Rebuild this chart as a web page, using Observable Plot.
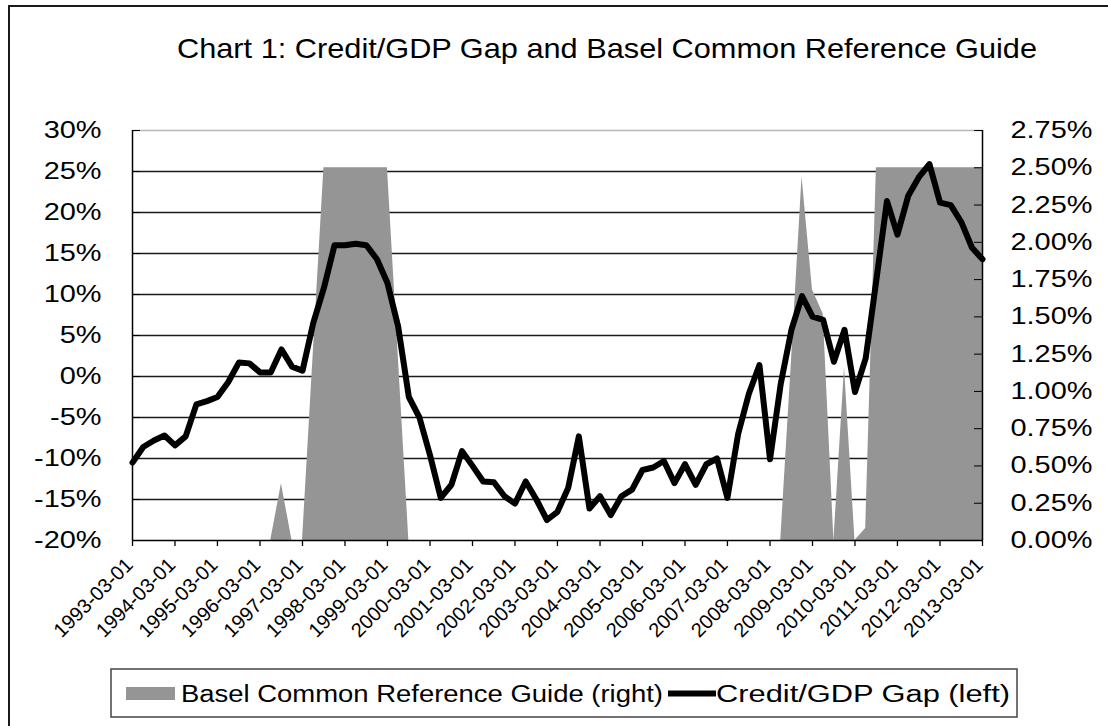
<!DOCTYPE html>
<html><head><meta charset="utf-8">
<script src="https://cdn.jsdelivr.net/npm/d3@7"></script>
<script src="https://cdn.jsdelivr.net/npm/@observablehq/plot@0.6"></script>
<style>
html,body{margin:0;padding:0;background:#fff;overflow:hidden;width:1108px;height:726px;}
#frame{position:absolute;left:8px;top:5px;width:1200px;height:800px;border-left:2px solid #1a1a1a;border-top:2px solid #1a1a1a;}
#chart{position:absolute;left:0;top:80px;}
#title{position:absolute;left:0;top:0;}
#legend{position:absolute;left:0;top:650px;}
svg text{font-family:"Liberation Sans",Arial,sans-serif;}
</style></head>
<body>
<div id="frame"></div>
<svg id="title" width="1108" height="80"><text id="ttl" x="607" y="58" text-anchor="middle" font-size="28" fill="#000">Chart 1: Credit/GDP Gap and Basel Common Reference Guide</text></svg>
<div id="chart"></div>
<svg id="legend" width="1108" height="76">
  <rect x="111" y="19" width="906" height="48" fill="#fff" stroke="#444" stroke-width="1.5"></rect>
  <rect x="126" y="37" width="49" height="13" fill="#959595"></rect>
  <text id="lg1" x="181" y="51.5" font-size="23.5" fill="#000">Basel Common Reference Guide (right)</text>
  <line x1="668" y1="43.5" x2="716" y2="43.5" stroke="#000" stroke-width="6"></line>
  <text id="lg2" x="716" y="51.5" font-size="23.5" fill="#000">Credit/GDP Gap (left)</text>
</svg>
<script>
// Credit/GDP gap (left axis, %), quarterly 1993-03-01 .. 2013-03-01
const gap = [-10.5, -8.6, -7.8, -7.2, -8.4, -7.3, -3.4, -3.0, -2.5, -0.7,
  1.7, 1.6, 0.5, 0.5, 3.3, 1.2, 0.7, 6.5, 10.8, 16.0,
  16.0, 16.2, 16.0, 14.3, 11.4, 6.1, -2.5, -5.0, -9.6, -14.8,
  -13.2, -9.1, -10.9, -12.8, -12.9, -14.6, -15.5, -12.8, -15.0, -17.5,
  -16.5, -13.6, -7.3, -16.1, -14.6, -16.9, -14.6, -13.8, -11.4, -11.1,
  -10.3, -13.0, -10.7, -13.2, -10.7, -10.0, -14.8, -7.0, -2.1, 1.4,
  -10.1, -0.9, 5.7, 9.8, 7.3, 6.9, 1.8, 5.7, -1.9, 2.2,
  11.8, 21.4, 17.3, 22.0, 24.3, 25.9, 21.2, 20.9, 18.8, 15.7, 14.3];
// Basel common reference guide (right axis, %)
const basel = [0, 0, 0, 0, 0, 0, 0, 0, 0, 0,
  0, 0, 0, 0, 0.38, 0, 0, 1.25, 2.5, 2.5,
  2.5, 2.5, 2.5, 2.5, 2.5, 1.25, 0, 0, 0, 0,
  0, 0, 0, 0, 0, 0, 0, 0, 0, 0,
  0, 0, 0, 0, 0, 0, 0, 0, 0, 0,
  0, 0, 0, 0, 0, 0, 0, 0, 0, 0,
  0, 0, 1.2, 2.44, 1.68, 1.52, 0, 1.16, 0, 0.08,
  2.5, 2.5, 2.5, 2.5, 2.5, 2.5, 2.5, 2.5, 2.5, 2.5, 2.5];
const startDate = new Date(Date.UTC(1993, 2, 1));
const dates = gap.map((_, i) => d3.utcMonth.offset(startDate, 3 * i));
const leftTicks = [-20, -15, -10, -5, 0, 5, 10, 15, 20, 25, 30];
const rightTicks = [0, 0.25, 0.5, 0.75, 1.0, 1.25, 1.5, 1.75, 2.0, 2.25, 2.5, 2.75];
const yearTicks = dates.filter((d, i) => i % 4 === 0);

const L0 = -20, L1 = 30, R1 = 2.75;
const toLeft = r => L0 + r * (L1 - L0) / R1;
const fromLeft = v => (v - L0) * R1 / (L1 - L0);

const rows = dates.map((d, i) => ({date: d, gap: gap[i], basel: toLeft(basel[i])}));

const chart = Plot.plot({
  width: 1108, height: 580,
  marginLeft: 132, marginRight: 126, marginTop: 50, marginBottom: 120,
  style: {fontFamily: "Liberation Sans, Arial, sans-serif", fontSize: "23.5px", color: "#000", background: "transparent", overflow: "visible"},
  x: {type: "utc", domain: [dates[0], dates[dates.length - 1]]},
  y: {domain: [L0, L1]},
  marks: [
    Plot.ruleY(leftTicks.filter(t => t > L0 && t < L1), {stroke: "#1a1a1a", strokeWidth: 1.3}),
    Plot.ruleY([L1], {stroke: "#b8b8b8", strokeWidth: 1.5}),
    Plot.areaY(rows, {x: "date", y1: L0, y2: "basel", fill: "#959595"}),
    Plot.ruleX([dates[0]], {stroke: "#000", strokeWidth: 1.5}),
    Plot.ruleX([dates[dates.length - 1]], {stroke: "#000", strokeWidth: 1.5}),
    Plot.ruleY([L0], {stroke: "#000", strokeWidth: 1.5}),
    Plot.line(rows, {x: "date", y: "gap", stroke: "#000", strokeWidth: 6, strokeLinejoin: "round"}),
    Plot.axisY(leftTicks, {anchor: "left", tickSize: -8, tickPadding: 39, tickFormat: d => d + "%", stroke: "#000"}),
    Plot.axisY(rightTicks.map(toLeft), {anchor: "right", tickSize: -9, tickPadding: 37, tickFormat: d => fromLeft(d).toFixed(2) + "%", stroke: "#000"}),
    Plot.axisX(yearTicks, {anchor: "bottom", tickSize: 6, tickFormat: () => "", stroke: "#000", strokeWidth: 1.3}),
    Plot.axisX(yearTicks, {anchor: "bottom", tickSize: 0, tickPadding: 21, tickRotate: -45, fontSize: 20, dx: -3, tickFormat: d3.utcFormat("%Y-%m-%d")})
  ]
});
document.getElementById("chart").appendChild(chart);

// horizontal stretch of texts, as in the reference
function stretch(el, factor, target) {
  const len = el.getComputedTextLength();
  el.setAttribute("textLength", target || len * factor);
  el.setAttribute("lengthAdjust", "spacingAndGlyphs");
}
chart.querySelectorAll('g[aria-label="y-axis tick label"] text').forEach(t => stretch(t, 1.23));
stretch(document.getElementById("ttl"), 1, 860);
stretch(document.getElementById("lg1"), 1, 482);
stretch(document.getElementById("lg2"), 1, 294);
</script>
</body></html>
